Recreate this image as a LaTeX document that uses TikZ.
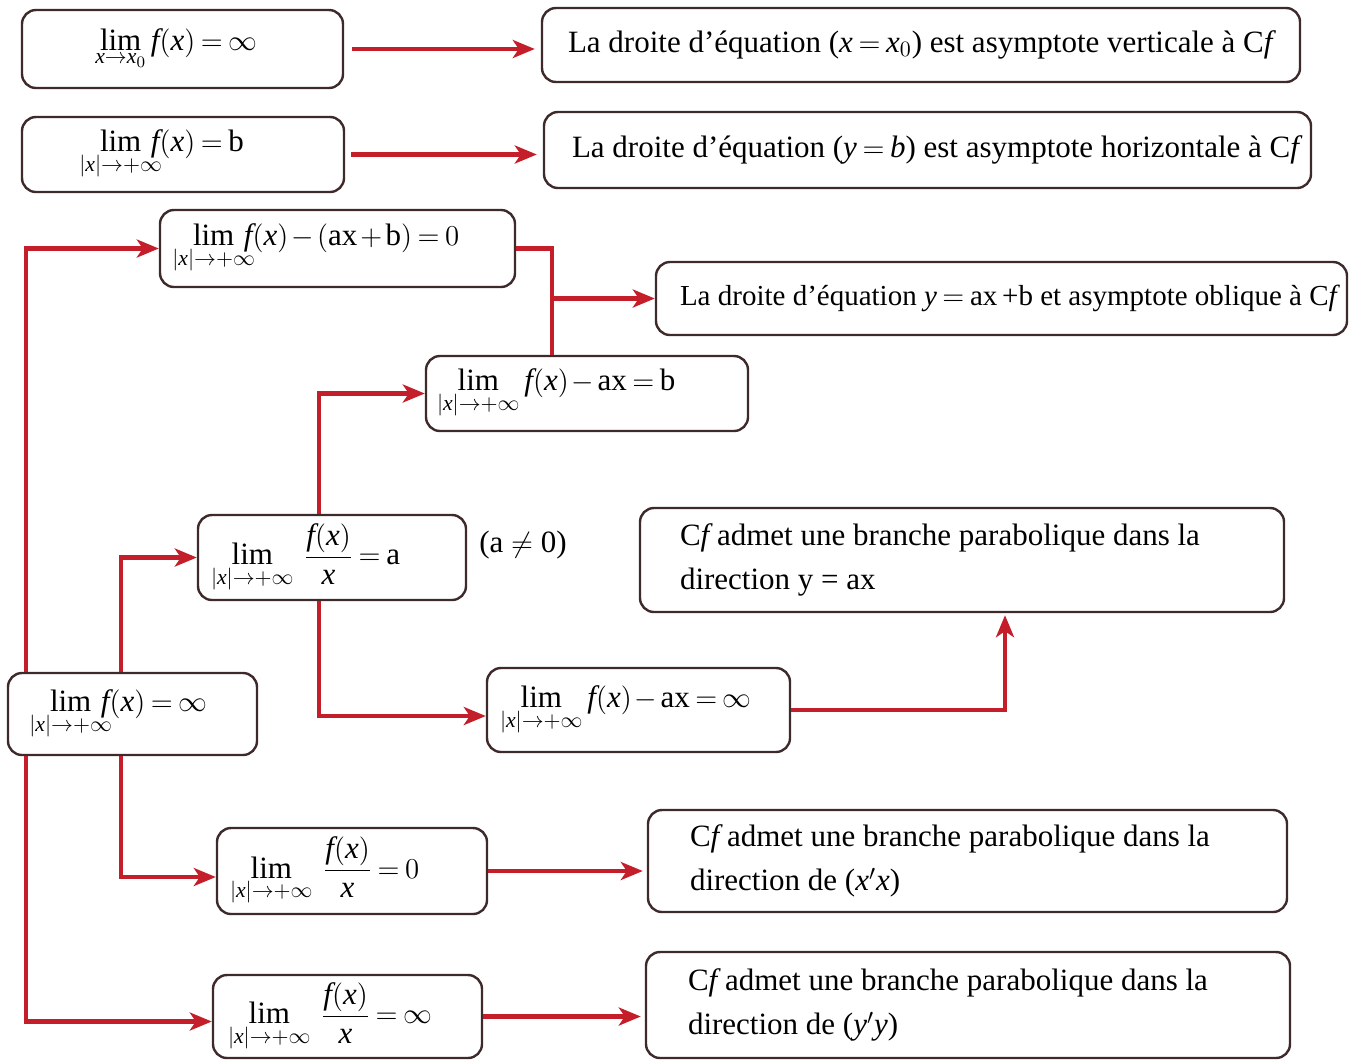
\documentclass[tikz,border=0pt]{standalone}
\usepackage{fontspec}
\setmainfont{Liberation Serif}
\usetikzlibrary{arrows.meta,calc}
\definecolor{conred}{HTML}{C41E2A}
\definecolor{boxline}{HTML}{3E2A2A}
\newcommand{\Fx}{\mathit{f}(\mathit{x})}
\newcommand{\Xv}{\mathit{x}}
\newcommand{\ClapSub}[1]{\makebox[0pt]{$\scriptstyle #1$}}
\newcommand{\Limx}{\lim_{|\Xv|\to+\infty}}
\newcommand{\LimC}{\lim_{\ClapSub{|\Xv|\to+\infty}}\,}
\thickmuskip=3.5mu plus 1mu
\medmuskip=2mu plus 1mu
\begin{document}
\begin{tikzpicture}[x=0.5pt,y=-0.5pt,
  box/.style={draw=boxline,line width=1.2pt,rounded corners=7pt,fill=white,
    inner sep=0pt,align=left,font=\fontsize{15.5}{22}\selectfont},
  conn/.style={draw=conred,line width=2.2pt,-{Stealth[length=11pt,width=9pt,inset=3pt]}},
  wire/.style={draw=conred,line width=2.2pt},
  plain/.style={font=\fontsize{15.5}{22}\selectfont,inner sep=0pt}
]
\useasboundingbox[fill=white] (0,0) rectangle (1352,1061);

% left (condition) boxes
\node[box,minimum width=160.5pt,minimum height=39pt] (B1) at (182.5,49)
  {\makebox[82.5pt][l]{$\displaystyle\lim_{\ClapSub{\Xv\to \Xv_0}}\,\Fx=\infty$}};
\node[box,minimum width=161pt,minimum height=37.5pt] (B2) at (183,154.5)
  {\makebox[83pt][l]{$\displaystyle\LimC\Fx=\mathrm{b}$}};
\node[box,minimum width=177.5pt,minimum height=38.5pt] (B3) at (337.5,248.5)
  {\makebox[144.5pt][l]{$\displaystyle\LimC\Fx-(\mathrm{ax}+\mathrm{b})=0$}};
\node[box,minimum width=161pt,minimum height=37.5pt] (B4) at (587,393.5)
  {\makebox[150pt][l]{$\displaystyle\Limx\Fx-\mathrm{ax}=\mathrm{b}$}};
\node[box,minimum width=134pt,minimum height=42.5pt] (B5) at (332,557.5)
  {\makebox[121pt][l]{$\displaystyle\Limx\;\frac{\Fx}{\Xv}=\mathrm{a}$}};
\node[box,minimum width=151.5pt,minimum height=42pt] (B6) at (638.5,710)
  {\makebox[138.5pt][l]{$\displaystyle\Limx\Fx-\mathrm{ax}=\infty$}};
\node[box,minimum width=124.5pt,minimum height=41pt] (B0) at (132.5,714)
  {\makebox[82.5pt][l]{$\displaystyle\LimC\Fx=\infty$}};
\node[box,minimum width=135pt,minimum height=43pt] (B7) at (352,871)
  {\makebox[122pt][l]{$\displaystyle\Limx\;\frac{\Fx}{\Xv}=0$}};
\node[box,minimum width=134.5pt,minimum height=41.5pt] (B8) at (347.5,1016.5)
  {\makebox[119.5pt][l]{$\displaystyle\Limx\;\frac{\Fx}{\Xv}=\infty$}};

\node[plain] (cond) at (523,545) {(a $\neq$ 0)};

% right (conclusion) boxes
\node[box,minimum width=379pt,minimum height=37pt] (R1) at (921,45)
  {\makebox[353pt][l]{La droite d'équation ($\Xv=\Xv_0$) est asymptote verticale à C$\mathit{f}$}};
\node[box,minimum width=383.5pt,minimum height=38pt] (R2) at (927.5,150)
  {\makebox[355.5pt][l]{La droite d'équation ($\mathit{y}=\mathit{b}$) est asymptote horizontale à C$\mathit{f}$}};
\node[box,minimum width=345.5pt,minimum height=36.5pt,font=\fontsize{14.5}{22}\selectfont] (R3) at (1001.5,298.5)
  {\makebox[321.5pt][l]{La droite d'équation $\mathit{y}=\mathrm{ax}$\,+b et asymptote oblique à C$\mathit{f}$}};
\node[box,minimum width=322pt,minimum height=52pt] (R4) at (962,560)
  {\makebox[282pt][l]{C$\mathit{f}$ admet une branche parabolique dans la}\\
   \makebox[282pt][l]{direction y = ax}};
\node[box,minimum width=319.5pt,minimum height=51pt] (R5) at (967.5,861)
  {\makebox[277.5pt][l]{C$\mathit{f}$ admet une branche parabolique dans la}\\
   \makebox[277.5pt][l]{direction de ($\Xv'\Xv$)}};
\node[box,minimum width=322pt,minimum height=53pt] (R6) at (968,1005)
  {\makebox[280pt][l]{C$\mathit{f}$ admet une branche parabolique dans la}\\
   \makebox[280pt][l]{direction de ($\mathit{y}'\mathit{y}$)}};

% straight arrows
\draw[conn,shorten <=4pt,shorten >=3pt] (B1.east) -- (B1.east -| R1.west);
\draw[conn,shorten <=3pt,shorten >=3pt] (B2.east) -- (B2.east -| R2.west);
\draw[conn,shorten >=2pt] (B7.east) -- (B7.east -| R5.west);
\draw[conn,shorten >=2pt] (B8.east) -- (B8.east -| R6.west);

% tree from main box
\draw[conn] ($(B0.north west)+(19,0)$) |- (B3.west);
\draw[conn] ($(B0.south west)+(19,0)$) |- ($(B8.west)+(0,5)$);
\draw[conn] ($(B0.north west)+(114,0)$) |- (B5.west);
\draw[conn] ($(B0.south west)+(114,0)$) |- ($(B7.west)+(0,6)$);
\draw[conn] ($(B5.north west)+(122,0)$) |- (B4.west);
\draw[conn] ($(B5.south west)+(122,0)$) |- ($(B6.west)+(0,6)$);
\draw[conn,shorten >=1pt] (B6.east) -| ($(R4.south)+(43,0)$);

% oblique asymptote junction
\coordinate (V) at ($(B4.north west)+(127,0)$);
\draw[wire] (B3.east) -| (V);
\draw[conn] (V |- R3.west) -- (R3.west);
\end{tikzpicture}
\end{document}
